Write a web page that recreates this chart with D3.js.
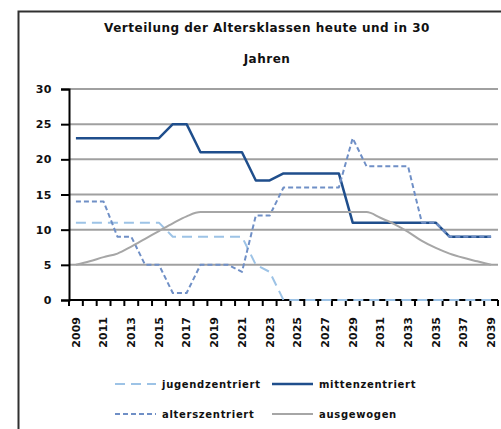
<!DOCTYPE html>
<html lang="de">
<head>
  <meta charset="UTF-8">
  <title>Verteilung der Altersklassen</title>
  <script src="https://d3js.org/d3.v7.min.js"></script>
  <style>
    body {
      margin: 0;
      padding: 0;
      background-color: #fff;
    }
    svg {
      display: block;
      font-family: "DejaVu Sans", sans-serif;
      font-weight: bold;
    }
  </style>
</head>
<body>
  <svg id="chart"></svg>
  <script>
// data
const years = [2009, 2010, 2011, 2012, 2013, 2014, 2015, 2016, 2017, 2018,
  2019, 2020, 2021, 2022, 2023, 2024, 2025, 2026, 2027, 2028,
  2029, 2030, 2031, 2032, 2033, 2034, 2035, 2036, 2037, 2038, 2039];
const jugend = [11, 11, 11, 11, 11, 11, 11, 9, 9, 9,
  9, 9, 9, 5, 4, 0, 0, 0, 0, 0,
  0, 0, 0, 0, 0, 0, 0, 0, 0, 0, 0];
const mitten = [23, 23, 23, 23, 23, 23, 23, 25, 25, 21,
  21, 21, 21, 17, 17, 18, 18, 18, 18, 18,
  11, 11, 11, 11, 11, 11, 11, 9, 9, 9, 9];
const alters = [14, 14, 14, 9, 9, 5, 5, 1, 1, 5,
  5, 5, 4, 12, 12, 16, 16, 16, 16, 16,
  23, 19, 19, 19, 19, 11, 11, 9, 9, 9, 9];
const ausgewogen = [5, 5.5, 6.1, 6.6, 7.6, 8.7, 9.8, 10.9, 11.9, 12.5,
  12.5, 12.5, 12.5, 12.5, 12.5, 12.5, 12.5, 12.5, 12.5, 12.5,
  12.5, 12.5, 11.7, 10.8, 9.7, 8.4, 7.4, 6.6, 6.0, 5.5, 5.0];
const yTicks = [0, 5, 10, 15, 20, 25, 30];
const xLabels = [2009, 2011, 2013, 2015, 2017, 2019, 2021, 2023, 2025, 2027, 2029, 2031, 2033, 2035, 2037, 2039];
const titleLines = ["Verteilung der Altersklassen heute und in 30", "Jahren"];

const series = [
  { name: "jugendzentriert", values: jugend, color: "#9dc3e6", width: 2, dash: "10,6", curve: d3.curveLinear },
  { name: "mittenzentriert", values: mitten, color: "#1f4e8c", width: 2.5, dash: null, curve: d3.curveLinear },
  { name: "alterszentriert", values: alters, color: "#6f8fc6", width: 2, dash: "5,3", curve: d3.curveLinear },
  { name: "ausgewogen", values: ausgewogen, color: "#a6a6a6", width: 2, dash: null, curve: d3.curveMonotoneX }
];

const width = 501, height = 429;
const plot = { left: 69, right: 498, top: 89, bottom: 300 };

const svg = d3.select("#chart")
  .attr("width", width)
  .attr("height", height);

// chart area frame (runs off the right and bottom edge)
svg.append("rect")
  .attr("x", 18.5).attr("y", 11.5)
  .attr("width", 520).attr("height", 440)
  .attr("fill", "#fff")
  .attr("stroke", "#303030")
  .attr("stroke-width", 2);

// title
svg.append("g")
  .selectAll("text")
  .data(titleLines)
  .join("text")
  .attr("x", 267)
  .attr("y", (d, i) => 32 + i * 31)
  .attr("text-anchor", "middle")
  .attr("font-size", "12px")
  .attr("letter-spacing", "0.5px")
  .attr("fill", "#111")
  .text(d => d);

const x = d3.scaleBand()
  .domain(years)
  .range([plot.left, plot.right]);

const y = d3.scaleLinear()
  .domain([0, 30])
  .range([plot.bottom, plot.top]);

// gridlines
svg.append("g")
  .selectAll("line")
  .data(yTicks.filter(d => d > 0))
  .join("line")
  .attr("x1", plot.left).attr("x2", plot.right)
  .attr("y1", d => y(d)).attr("y2", d => y(d))
  .attr("stroke", "#a0a0a0")
  .attr("stroke-width", 2);

// y axis
const yAxis = svg.append("g")
  .attr("transform", `translate(${plot.left},0)`)
  .call(d3.axisLeft(y).tickValues(yTicks).tickSize(8).tickPadding(9));
yAxis.select(".domain").attr("stroke", "#000").attr("stroke-width", 2);
yAxis.selectAll(".tick line").attr("stroke", "#000").attr("stroke-width", 2);
yAxis.selectAll("text")
  .attr("font-family", "DejaVu Sans, sans-serif")
  .attr("font-weight", "bold")
  .attr("font-size", "11px")
  .attr("letter-spacing", "0.5px")
  .attr("fill", "#111");

// x axis: ticks between categories
const xAxis = svg.append("g")
  .attr("transform", `translate(0,${plot.bottom})`);
xAxis.append("line")
  .attr("x1", plot.left).attr("x2", plot.right)
  .attr("stroke", "#000").attr("stroke-width", 2);
xAxis.selectAll(".tk")
  .data(years.concat([null]))
  .join("line")
  .attr("class", "tk")
  .attr("x1", (d, i) => plot.left + i * x.step())
  .attr("x2", (d, i) => plot.left + i * x.step())
  .attr("y1", 0).attr("y2", 6)
  .attr("stroke", "#000").attr("stroke-width", 2);
xAxis.selectAll(".lbl")
  .data(xLabels)
  .join("text")
  .attr("class", "lbl")
  .attr("transform", d => `translate(${x(d) + x.bandwidth() / 2},17) rotate(-90)`)
  .attr("dy", "0.35em")
  .attr("text-anchor", "end")
  .attr("font-size", "11px")
  .attr("fill", "#111")
  .text(d => d);

// series lines
series.forEach(s => {
  const line = d3.line()
    .x((d, i) => x(years[i]) + x.bandwidth() / 2)
    .y(d => y(d))
    .curve(s.curve);
  svg.append("path")
    .datum(s.values)
    .attr("d", line)
    .attr("fill", "none")
    .attr("stroke", s.color)
    .attr("stroke-width", s.width)
    .attr("stroke-linejoin", "round")
    .attr("stroke-dasharray", s.dash);
});

// legend, two columns
const legend = svg.append("g")
  .selectAll("g")
  .data(series)
  .join("g")
  .attr("transform", (d, i) => `translate(${i % 2 ? 272 : 115},${i < 2 ? 384 : 414})`);
legend.append("line")
  .attr("x1", 0).attr("x2", 41)
  .attr("stroke", d => d.color)
  .attr("stroke-width", d => d.width)
  .attr("stroke-dasharray", d => d.dash);
legend.append("text")
  .attr("x", 47)
  .attr("dy", "0.35em")
  .attr("font-size", "10px")
  .attr("letter-spacing", "0.7px")
  .attr("fill", "#111")
  .text(d => d.name);
  </script>
</body>
</html>
